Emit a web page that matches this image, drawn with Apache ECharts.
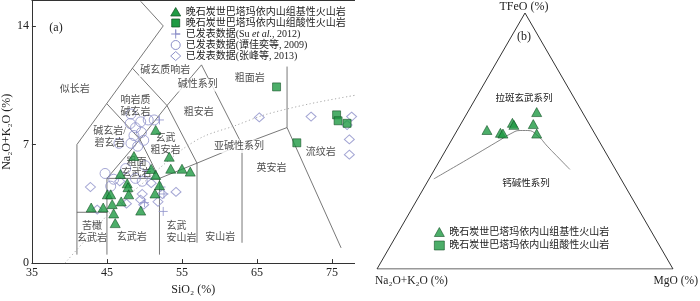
<!DOCTYPE html>
<html><head><meta charset="utf-8">
<script src="https://cdn.jsdelivr.net/npm/echarts@6/dist/echarts.min.js"></script>
<style>html,body{margin:0;padding:0;background:#fff}#c{width:700px;height:301px}</style>
</head><body><div id="c"></div>
<script>
// ================= DATA =================
const xTicks = [35, 45, 55, 65, 75];
const yTicks = [0, 7, 14];

// This study: basic volcanic rocks (TAS)
const basicSiO2 = [51.5, 48.6, 53.3, 46.8, 50.9, 51.5, 53.5, 55.0, 56.1, 47.7, 47.8, 47.9, 45.05, 45.5, 52.0, 51.4, 46.9, 45.7, 42.9, 44.5, 49.5, 45.9, 46.1];
const basicAlk  = [7.86, 6.32, 6.28, 5.26, 5.56, 5.20, 5.57, 5.57, 5.40, 4.71, 4.48, 4.06, 4.06, 4.06, 4.60, 4.11, 3.64, 3.48, 3.28, 3.28, 3.10, 2.93, 2.36];
// This study: acidic volcanic rocks (TAS)
const acidSiO2 = [67.6, 75.6, 75.8, 77.0, 70.3];
const acidAlk  = [10.4, 8.75, 8.4, 8.25, 7.1];
// Published: Su et al., 2012
const suSiO2 = [52.0, 52.6, 52.5, 50.0, 52.2];
const suAlk  = [8.45, 4.08, 3.05, 3.57, 4.49];
// Published: 谭佳奕等, 2009
const tanSiO2 = [48.2, 48.1, 49.5, 50.5, 51.3, 48.8, 49.6, 48.6, 49.9, 49.1, 48.2, 46.6, 44.75, 45.5, 45.9, 48.8, 49.7, 50.1, 47.5, 50.75];
const tanAlk  = [8.80, 8.24, 8.34, 8.45, 8.45, 7.99, 7.71, 7.53, 7.25, 6.90, 7.07, 7.07, 5.29, 4.54, 4.95, 5.00, 4.83, 5.75, 5.58, 5.29];
// Published: 张峰等, 2013
const zhangSiO2 = [42.8, 43.7, 47.6, 49.5, 49.7, 49.9, 51.8, 52.4, 54.2, 50.9, 46.7, 65.3, 72.2, 77.6, 77.0, 77.3, 77.3];
const zhangAlk  = [4.49, 3.16, 3.51, 3.74, 4.08, 3.45, 3.62, 4.08, 4.20, 4.72, 4.83, 8.60, 8.65, 8.65, 8.15, 7.30, 6.40];

// Irvine & Baragar alkaline / subalkaline divide
const irvineSiO2 = [39.4, 42, 45, 48, 50, 52, 55, 58, 62, 66, 72, 78];
const irvineAlk  = [0, 1.3, 2.8, 4.05, 4.8, 5.6, 6.7, 7.5, 8.1, 8.75, 9.4, 9.9];

// TAS field boundaries (SiO2, Na2O+K2O polylines)
const tasBoundaries = [
  [[41, 0.5], [41, 7], [52.5, 14], [49.5, 15.45]],
  [[41, 3], [45, 3]],
  [[45, 0.5], [45, 5], [52, 5], [52, 0.5]],
  [[45, 5], [49.4, 7.3], [53, 9.3], [57.6, 11.7]],
  [[45, 9.4], [49.4, 7.3], [52, 5], [57, 5.9], [63, 7], [69, 8]],
  [[48.4, 11.5], [53, 9.3], [57, 5.9], [57, 1.2]],
  [[57.6, 11.7], [63, 7], [63, 1.2]],
  [[69, 11.6], [69, 8], [76.2, 0.9]]
];

// AFM (percent): basic rocks
const afmA = [15.4, 25.7, 25.6, 18.9, 35.7, 31.7, 31.0, 19.6];
const afmF = [61.3, 57.1, 56.3, 56.6, 54.3, 53.2, 52.9, 52.9];
const afmM = [23.3, 17.2, 18.1, 24.5, 10.0, 15.1, 16.1, 27.5];
// AFM tholeiitic / calc-alkaline divide
const curveA = [63.2, 46.9, 33.2, 28.7, 24.6, 22.0, 19.8, 18.4, 16.8, 15.4];
const curveF = [35.2, 43.4, 50.4, 52.7, 54.1, 54.1, 52.3, 47.7, 43.0, 38.9];
const curveM = [1.6, 9.7, 16.4, 18.6, 21.3, 23.9, 27.9, 33.9, 40.2, 45.7];
// AFM triangle corners (A, F, M)
const cornerA = [100, 0, 0, 100];
const cornerF = [0, 100, 0, 0];
const cornerM = [0, 0, 100, 0];

// ================= BUILD =================
const N1 = '晚石炭世巴塔玛依内山组基性火山岩';
const N2 = '晚石炭世巴塔玛依内山组酸性火山岩';
const N3 = '已发表数据(Su et al., 2012)';
const N4 = '已发表数据(谭佳奕等, 2009)';
const N5 = '已发表数据(张峰等, 2013)';

const SERIF = '"Liberation Serif","Times New Roman","Noto Sans CJK SC",serif';
const CJK = '"Liberation Serif","Noto Sans CJK SC",sans-serif';
const GREEN = '#1f9a43', GREEN_B = '#0c4a1e', PUB = '#8d90c9', LINE = '#555';
const TRANSP = 'rgba(255,255,255,0)';

const zip = (a, b) => a.map((v, i) => [v, b[i]]);
const tern = (A, F, M) => A.map((_, i) => {
  const s = A[i] + F[i] + M[i];
  return [(M[i] + F[i] / 2) / s, (F[i] / s) * Math.sqrt(3) / 2];
});

const fieldLabels = [
  {t: '似长岩', x: 40.7, y: 10.24},
  {t: '碱玄质响岩', x: 52.76, y: 11.39, bg: true},
  {t: '碱性系列', x: 57.09, y: 10.52, bg: true},
  {t: '粗面岩', x: 64.04, y: 10.93},
  {t: '响岩质\n碱玄岩', x: 48.82, y: 9.25},
  {t: '粗安岩', x: 57.22, y: 8.91},
  {t: '碱玄岩/\n碧玄岩', x: 45.35, y: 7.42},
  {t: '玄武\n粗安岩', x: 52.8, y: 7.0},
  {t: '粗面\n玄武岩', x: 48.95, y: 5.63},
  {t: '亚碱性系列', x: 62.6, y: 6.9, bg: true},
  {t: '英安岩', x: 66.93, y: 5.58},
  {t: '流纹岩', x: 73.49, y: 6.56},
  {t: '苦橄\n玄武岩', x: 43.0, y: 1.82},
  {t: '玄武岩', x: 48.29, y: 1.5},
  {t: '玄武\n安山岩', x: 52.95, y: 1.82, left: true},
  {t: '安山岩', x: 60.1, y: 1.5}
];

const series = [];
tasBoundaries.forEach(pl => series.push({
  type: 'line', xAxisIndex: 0, yAxisIndex: 0, data: pl, symbol: 'none', silent: true,
  lineStyle: {color: LINE, width: 0.8}, z: 1
}));
series.push({
  type: 'line', xAxisIndex: 0, yAxisIndex: 0, data: zip(irvineSiO2, irvineAlk), symbol: 'none',
  smooth: 0.3, silent: true, lineStyle: {color: '#aaa', width: 1, type: [1.2, 2.5]}, z: 1
});
series.push({
  name: N4, type: 'scatter', xAxisIndex: 0, yAxisIndex: 0, data: zip(tanSiO2, tanAlk),
  symbol: 'circle', symbolSize: 10,
  itemStyle: {color: TRANSP, borderColor: PUB, borderWidth: 1}, z: 3
});
series.push({
  name: N5, type: 'scatter', xAxisIndex: 0, yAxisIndex: 0, data: zip(zhangSiO2, zhangAlk),
  symbol: 'diamond', symbolSize: [10, 9],
  itemStyle: {color: TRANSP, borderColor: PUB, borderWidth: 1}, z: 3
});
series.push({
  name: N3, type: 'scatter', xAxisIndex: 0, yAxisIndex: 0, data: zip(suSiO2, suAlk),
  symbol: 'path://M5,0L5,10M0,5L10,5', symbolSize: 9,
  itemStyle: {color: TRANSP, borderColor: PUB, borderWidth: 1}, z: 3
});
series.push({
  name: N1, type: 'scatter', xAxisIndex: 0, yAxisIndex: 0, data: zip(basicSiO2, basicAlk),
  symbol: 'triangle', symbolSize: [10, 9],
  itemStyle: {color: GREEN, borderColor: GREEN_B, borderWidth: 0.7}, z: 5
});
series.push({
  name: N2, type: 'scatter', xAxisIndex: 0, yAxisIndex: 0, data: zip(acidSiO2, acidAlk),
  symbol: 'rect', symbolSize: 8,
  itemStyle: {color: GREEN, borderColor: GREEN_B, borderWidth: 0.7}, z: 5
});
series.push({
  type: 'scatter', xAxisIndex: 0, yAxisIndex: 0, symbol: 'circle', symbolSize: 1, silent: true, z: 4,
  itemStyle: {color: TRANSP},
  data: fieldLabels.map(f => ({
    value: [f.x, f.y],
    label: {
      show: true, position: 'inside', formatter: f.t,
      align: f.left ? 'left' : 'center', verticalAlign: 'middle',
      fontFamily: CJK, fontSize: 10, lineHeight: 11.5, color: '#222',
      backgroundColor: f.bg ? '#fff' : 'transparent', padding: f.bg ? [1, 1] : 0
    }
  }))
});
// AFM
series.push({
  type: 'line', xAxisIndex: 2, yAxisIndex: 1, data: tern(cornerA, cornerF, cornerM), symbol: 'none',
  silent: true, lineStyle: {color: '#333', width: 1}
});
series.push({
  type: 'line', xAxisIndex: 2, yAxisIndex: 1, data: tern(curveA, curveF, curveM), symbol: 'none',
  smooth: true, silent: true, lineStyle: {color: '#777', width: 0.9}
});
series.push({
  name: N1, type: 'scatter', xAxisIndex: 2, yAxisIndex: 1, data: tern(afmA, afmF, afmM),
  symbol: 'triangle', symbolSize: [10, 9],
  itemStyle: {color: GREEN, borderColor: GREEN_B, borderWidth: 0.7}, z: 5
});

const legendRich = {
  t: {fontFamily: CJK, fontSize: 10, fill: '#222'},
  i: {fontFamily: SERIF, fontStyle: 'italic', fontSize: 10, fill: '#222'}
};
const legendFmt = n => n.indexOf('et al.') >= 0
  ? '{t|' + n.split('et al.')[0] + '}{i|et al.}{t|' + n.split('et al.')[1] + '}'
  : '{t|' + n + '}';

// hand-built legend (key) for panel (a)
const keyX = 175.7, keyTextX = 185.7, keyY0 = 12, keyStep = 11;
const greenStyle = {fill: GREEN, stroke: GREEN_B, lineWidth: 0.7};
const pubStyle = {fill: 'none', stroke: PUB, lineWidth: 1};
const keyIcon = (kind, cy) => {
  const cx = keyX;
  if (kind === 'tri') return {type: 'polygon', shape: {points: [[cx, cy - 4.5], [cx + 5, cy + 4], [cx - 5, cy + 4]]}, style: greenStyle};
  if (kind === 'sq') return {type: 'rect', shape: {x: cx - 4, y: cy - 4, width: 8, height: 8}, style: greenStyle};
  if (kind === 'cross') return {type: 'polyline', shape: {points: [[cx - 4.5, cy], [cx + 4.5, cy], [cx, cy], [cx, cy - 4.5], [cx, cy + 4.5]]}, style: pubStyle};
  if (kind === 'circ') return {type: 'circle', shape: {cx: cx, cy: cy, r: 4.5}, style: pubStyle};
  return {type: 'polygon', shape: {points: [[cx, cy - 4.5], [cx + 5, cy], [cx, cy + 4.5], [cx - 5, cy]]}, style: pubStyle};
};
const keyRows = [['tri', N1], ['sq', N2], ['cross', N3], ['circ', N4], ['dia', N5]];
const keyGraphics = [];
keyRows.forEach((r, i) => {
  const cy = keyY0 + keyStep * i;
  keyGraphics.push(Object.assign({silent: true}, keyIcon(r[0], cy)));
  keyGraphics.push({type: 'text', x: keyTextX, y: cy, silent: true,
    style: {text: legendFmt(r[1]), rich: legendRich, font: '10px ' + CJK, fill: '#222', align: 'left', verticalAlign: 'middle'}});
});

const option = {
  animation: false,
  backgroundColor: '#fff',
  grid: [
    {left: 27, top: 0.5, width: 327.6, height: 269.5},
    {left: 377, top: 13, width: 296, height: 256}
  ],
  xAxis: [
    {type: 'value', gridIndex: 0, min: 35, max: 78, interval: 10,
     name: 'SiO₂ (%)', nameLocation: 'middle', nameGap: 17,
     nameTextStyle: {fontFamily: SERIF, fontSize: 12, color: '#222'},
     axisLine: {lineStyle: {color: '#333', width: 1}},
     axisTick: {inside: true, length: 4, lineStyle: {color: '#333'}},
     axisLabel: {fontFamily: SERIF, fontSize: 12, color: '#222', margin: 4, showMaxLabel: false,
       formatter: v => xTicks.includes(v) ? String(v) : ''},
     splitLine: {show: false}},
    {type: 'value', gridIndex: 0, position: 'top', min: 35, max: 78,
     axisLine: {show: true, lineStyle: {color: '#333', width: 1}},
     axisTick: {show: false}, axisLabel: {show: false}, splitLine: {show: false}},
    {type: 'value', gridIndex: 1, min: 0, max: 1, show: false}
  ],
  yAxis: [
    {type: 'value', gridIndex: 0, min: 0, max: 15.5, interval: 7,
     name: 'Na₂O+K₂O (%)', nameLocation: 'middle', nameGap: 16,
     nameTextStyle: {fontFamily: SERIF, fontSize: 12, color: '#222'},
     axisLine: {show: true, lineStyle: {color: '#333', width: 1}},
     axisTick: {inside: true, length: 4, lineStyle: {color: '#333'}},
     axisLabel: {fontFamily: SERIF, fontSize: 12, color: '#222', margin: 3, showMaxLabel: false,
       formatter: v => yTicks.includes(v) ? String(v) : ''},
     splitLine: {show: false}},
    {type: 'value', gridIndex: 1, min: 0, max: Math.sqrt(3) / 2, show: false}
  ],
  legend: [
    {left: 434, top: 227, orient: 'vertical', itemWidth: 10, itemHeight: 9, itemGap: 3.5, padding: 0,
     data: [N1, N2], selectedMode: false,
     itemStyle: {borderWidth: 0.7},
     textStyle: {fontFamily: CJK, fontSize: 10, color: '#222'}}
  ],
  graphic: [
    {type: 'text', x: 56, y: 28, style: {text: '(a)', font: '12px ' + SERIF, fill: '#222', align: 'center', verticalAlign: 'middle'}},
    {type: 'text', x: 524, y: 7, style: {text: 'TFeO (%)', font: '12px ' + SERIF, fill: '#222', align: 'center', verticalAlign: 'middle'}},
    {type: 'text', x: 524, y: 37, style: {text: '(b)', font: '12px ' + SERIF, fill: '#222', align: 'center', verticalAlign: 'middle'}},
    {type: 'text', x: 524, y: 98, style: {text: '拉斑玄武系列', font: '9.5px ' + CJK, fill: '#222', align: 'center', verticalAlign: 'middle'}},
    {type: 'text', x: 526, y: 183, style: {text: '钙碱性系列', font: '9.5px ' + CJK, fill: '#222', align: 'center', verticalAlign: 'middle'}},
    {type: 'text', x: 375, y: 281, style: {text: 'Na₂O+K₂O (%)', font: '11.5px ' + SERIF, fill: '#222', align: 'left', verticalAlign: 'middle'}},
    {type: 'text', x: 698, y: 281, style: {text: 'MgO (%)', font: '11.5px ' + SERIF, fill: '#222', align: 'right', verticalAlign: 'middle'}}
  ].concat(keyGraphics),
  series: series
};

const chart = echarts.init(document.getElementById('c'), null, {renderer: 'canvas'});
chart.setOption(option);
</script>
</body></html>
